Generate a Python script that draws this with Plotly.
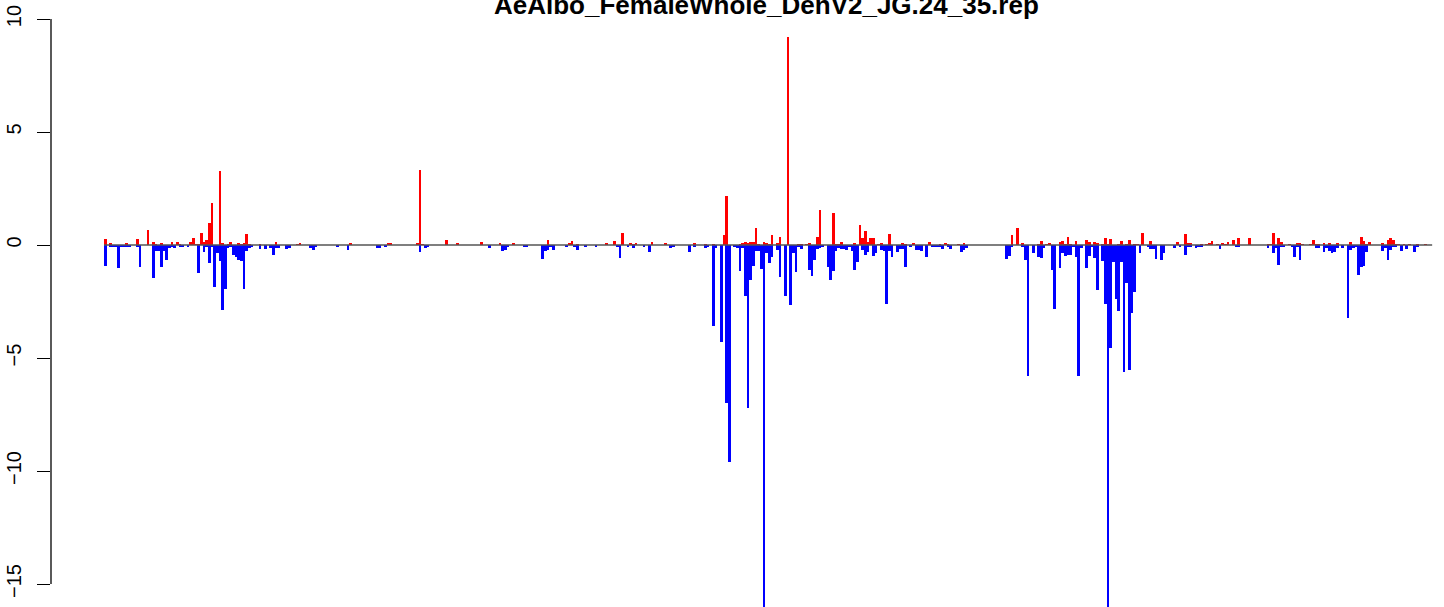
import plotly.graph_objects as go

title_text = "AeAlbo_FemaleWhole_DenV2_JG.24_35.rep"
n_bars = 498

# positive (red) values: bar index -> value
pos_idx = [0, 2, 8, 12, 16, 18, 19, 21, 25, 27, 28, 32, 33, 34, 35, 36, 37, 38, 39, 40,
           43, 44, 46, 47, 50, 51, 52, 53, 54, 58, 64, 72, 73, 92, 106, 107, 117, 118, 119, 128,
           132, 141, 148, 153, 166, 174, 175, 177, 188, 191, 194, 197, 198, 199, 205, 210, 221, 225, 228, 232,
           233, 238, 239, 240, 241, 242, 243, 244, 245, 247, 248, 249, 250, 252, 253, 256, 260, 261, 263, 264,
           267, 268, 273, 274, 275, 276, 281, 283, 284, 285, 286, 287, 288, 290, 291, 294, 299, 300, 303, 309,
           313, 315, 316, 320, 322, 340, 342, 344, 350, 351, 353, 354, 358, 359, 360, 361, 362, 364, 368, 369,
           371, 372, 374, 375, 376, 377, 380, 381, 383, 384, 386, 387, 389, 392, 402, 405, 406, 407, 411, 413,
           414, 415, 417, 419, 420, 421, 423, 425, 429, 436, 437, 438, 440, 441, 444, 447, 448, 449, 452, 453,
           454, 455, 457, 459, 462, 467, 471, 472, 473, 474, 479, 481, 482, 483, 484, 485, 487, 489, 492, 495]
pos_val = [0.26, 0.05, 0.05, 0.26, 0.66, 0.13, 0.04, 0.05, 0.13, 0.13, 0.04, 0.13, 0.31, 0.04, 0.04, 0.53, 0.13, 0.22, 0.97, 1.85,
           3.26, 0.09, 0.04, 0.13, 0.09, 0.04, 0.09, 0.49, 0.04, 0.04, 0.13, 0.04, 0.09, 0.05, 0.05, 0.09, 0.05, 3.31, 0.04, 0.24,
           0.05, 0.13, 0.05, 0.05, 0.22, 0.09, 0.18, 0.04, 0.05, 0.18, 0.53, 0.09, 0.04, 0.09, 0.13, 0.05, 0.09, 0.04, 0.04, 0.44,
           2.16, 0.04, 0.09, 0.13, 0.09, 0.13, 0.13, 0.75, 0.04, 0.13, 0.09, 0.04, 0.44, 0.09, 0.35, 9.21, 0.04, 0.04, 0.04, 0.09,
           0.35, 1.54, 1.41, 0.04, 0.04, 0.13, 0.09, 0.88, 0.31, 0.62, 0.13, 0.31, 0.31, 0.04, 0.09, 0.49, 0.09, 0.04, 0.09, 0.13,
           0.04, 0.09, 0.04, 0.04, 0.09, 0.44, 0.75, 0.09, 0.04, 0.18, 0.04, 0.09, 0.13, 0.18, 0.04, 0.35, 0.04, 0.18, 0.22, 0.13,
           0.13, 0.09, 0.04, 0.31, 0.04, 0.26, 0.04, 0.18, 0.04, 0.22, 0.04, 0.04, 0.53, 0.18, 0.13, 0.49, 0.09, 0.09, 0.04, 0.04,
           0.09, 0.18, 0.04, 0.09, 0.04, 0.13, 0.22, 0.31, 0.31, 0.04, 0.04, 0.53, 0.31, 0.13, 0.04, 0.09, 0.09, 0.04, 0.04, 0.22,
           0.04, 0.04, 0.09, 0.09, 0.09, 0.13, 0.35, 0.18, 0.04, 0.13, 0.09, 0.22, 0.31, 0.22, 0.04, 0.04, 0.04, 0.04, 0.04, 0.04]

# negative (blue) values: bar index -> value
neg_idx = [0, 2, 3, 4, 5, 6, 7, 8, 9, 12, 13, 18, 19, 20, 21, 22, 23, 24, 25, 26,
           28, 29, 31, 35, 37, 38, 39, 40, 41, 42, 43, 44, 45, 46, 47, 48, 49, 50, 51, 52,
           53, 54, 55, 58, 60, 62, 63, 64, 65, 68, 69, 77, 78, 79, 87, 91, 102, 103, 105, 118,
           120, 121, 144, 149, 150, 151, 157, 158, 164, 165, 166, 167, 168, 173, 176, 177, 180, 184, 192, 193,
           196, 198, 202, 204, 212, 213, 219, 221, 225, 226, 228, 229, 231, 233, 234, 236, 237, 238, 239, 240,
           241, 242, 243, 244, 245, 246, 247, 248, 249, 250, 252, 253, 255, 257, 258, 259, 260, 261, 264, 265,
           266, 267, 268, 269, 271, 272, 273, 274, 275, 276, 277, 278, 279, 280, 281, 282, 284, 285, 286, 288,
           289, 291, 292, 293, 294, 295, 297, 298, 299, 300, 302, 304, 305, 306, 308, 310, 311, 312, 313, 314,
           316, 317, 321, 322, 323, 338, 339, 340, 344, 345, 346, 348, 350, 351, 352, 355, 356, 358, 359, 360,
           361, 362, 363, 364, 365, 366, 368, 369, 370, 371, 372, 374, 375, 376, 377, 378, 379, 380, 381, 382,
           383, 384, 385, 386, 388, 391, 392, 393, 394, 396, 397, 401, 403, 405, 406, 407, 409, 410, 411, 418,
           424, 425, 436, 438, 439, 440, 441, 442, 445, 446, 447, 448, 454, 455, 457, 458, 459, 460, 461, 462,
           464, 466, 467, 468, 469, 470, 471, 472, 473, 479, 480, 481, 482, 483, 484, 486, 488, 491, 492]
neg_val = [-0.93, -0.07, -0.07, -0.07, -1.0, -0.07, -0.07, -0.07, -0.07, -0.07, -0.96, -1.44, -0.26, -0.26, -0.96, -0.26, -0.66, -0.12, -0.07, -0.12,
           -0.07, -0.07, -0.07, -1.22, -0.29, -0.07, -0.78, -0.07, -1.84, -0.34, -0.70, -2.87, -1.93, -0.12, -0.07, -0.43, -0.51, -0.65, -0.69, -1.95,
           -0.25, -0.12, -0.07, -0.16, -0.16, -0.12, -0.43, -0.12, -0.12, -0.16, -0.12, -0.12, -0.21, -0.07, -0.07, -0.21, -0.12, -0.12, -0.07, -0.29,
           -0.12, -0.07, -0.12, -0.25, -0.21, -0.07, -0.07, -0.07, -0.60, -0.25, -0.21, -0.07, -0.21, -0.07, -0.07, -0.21, -0.07, -0.07, -0.07, -0.56,
           -0.07, -0.12, -0.07, -0.29, -0.12, -0.07, -0.29, -0.07, -0.12, -0.07, -3.6, -0.12, -4.28, -7.0, -9.6, -0.07, -0.12, -1.13, -0.12, -2.25,
           -7.2, -1.54, -0.91, -0.25, -0.25, -1.04, -16.5, -0.34, -0.78, -0.51, -0.21, -1.40, -2.25, -2.65, -0.34, -1.18, -0.07, -0.16, -1.09, -1.35,
           -0.65, -0.16, -0.12, -0.07, -0.96, -1.53, -1.13, -0.25, -0.12, -0.16, -0.16, -0.21, -0.07, -0.25, -1.09, -0.74, -0.21, -0.43, -0.29, -0.47,
           -0.34, -0.21, -0.25, -2.6, -0.25, -0.51, -0.29, -0.16, -0.16, -0.96, -0.07, -0.21, -0.21, -0.25, -0.51, -0.07, -0.07, -0.07, -0.07, -0.16,
           -0.07, -0.16, -0.29, -0.21, -0.12, -0.60, -0.47, -0.07, -0.07, -0.65, -5.78, -0.34, -0.51, -0.56, -0.12, -1.09, -2.82, -1.0, -0.34, -0.47,
           -0.43, -0.43, -0.07, -0.51, -5.78, -0.12, -1.0, -0.47, -0.07, -0.56, -2.01, -0.69, -2.63, -16.5, -4.54, -0.74, -2.37, -2.94, -0.74, -5.6,
           -1.66, -5.55, -3.03, -2.06, -0.34, -0.07, -0.16, -0.16, -0.60, -0.65, -0.34, -0.12, -0.07, -0.43, -0.07, -0.07, -0.12, -0.07, -0.07, -0.16,
           -0.07, -0.07, -0.12, -0.34, -0.12, -0.87, -0.07, -0.07, -0.07, -0.51, -0.07, -0.65, -0.12, -0.12, -0.29, -0.12, -0.25, -0.34, -0.29, -0.12,
           -0.12, -3.22, -0.21, -0.12, -0.07, -1.31, -0.96, -0.91, -0.29, -0.25, -0.12, -0.65, -0.21, -0.07, -0.07, -0.25, -0.16, -0.29, -0.07]

y_ticks = [10, 5, 0, -5, -10, -15]
y_tick_labels = ["10", "5", "0", "\u22125", "\u221210", "\u221215"]

pos_series = [0.0] * n_bars
for i, v in zip(pos_idx, pos_val):
    pos_series[i] = v
neg_series = [0.0] * n_bars
for i, v in zip(neg_idx, neg_val):
    neg_series[i] = v
xs = list(range(n_bars))

fig = go.Figure()
fig.add_trace(go.Bar(x=xs, y=pos_series, width=1.0, marker=dict(color="#FF0000", line=dict(width=0)),
                     showlegend=False, hoverinfo="y"))
fig.add_trace(go.Bar(x=xs, y=neg_series, width=1.0, marker=dict(color="#0000FF", line=dict(width=0)),
                     showlegend=False, hoverinfo="y"))

W, H = 1444, 607
L = 51
px_per_unit = 22.6
zero_px = 245
bar_px = 2.667
first_center_px = 105.33

x_lo = (L - first_center_px) / bar_px
x_hi = (W - first_center_px) / bar_px
y_hi = zero_px / px_per_unit
y_lo = -(H - zero_px) / px_per_unit

fig.update_layout(
    width=W, height=H,
    margin=dict(l=L, r=0, t=0, b=0),
    paper_bgcolor="white", plot_bgcolor="white",
    barmode="relative", bargap=0,
    font=dict(family="Liberation Sans, Arial, sans-serif", color="black"),
    xaxis=dict(range=[x_lo, x_hi], showgrid=False, zeroline=False, showticklabels=False,
               ticks="", showline=False),
    yaxis=dict(range=[y_lo, y_hi], showgrid=False, zeroline=False, showline=False,
               tickmode="array", tickvals=y_ticks, ticktext=y_tick_labels,
               ticks="outside", ticklen=13, tickwidth=1.3, tickcolor="black",
               tickangle=-90, tickfont=dict(size=20, family="Liberation Sans, Arial, sans-serif"),
               ticklabelstandoff=8),
    shapes=[
        dict(type="line", xref="x", yref="y", x0=-0.5, x1=n_bars - 0.5, y0=0, y1=0,
             line=dict(color="#555555", width=1.5), layer="above"),
        dict(type="line", xref="paper", yref="y", x0=0, x1=0, y0=-15, y1=10,
             line=dict(color="black", width=1.3), layer="above"),
    ],
    annotations=[
        dict(text="<b>" + title_text + "</b>", xref="paper", yref="paper",
             x=(767 - L) / (W - L), y=1 - 21 / H, xanchor="center", yanchor="bottom",
             showarrow=False, font=dict(size=26, family="Liberation Sans, Arial, sans-serif", color="black"),
             borderpad=0),
    ],
)

fig.write_html("out.html", config={"displayModeBar": False},
               post_script="document.body.style.margin='0px';")
